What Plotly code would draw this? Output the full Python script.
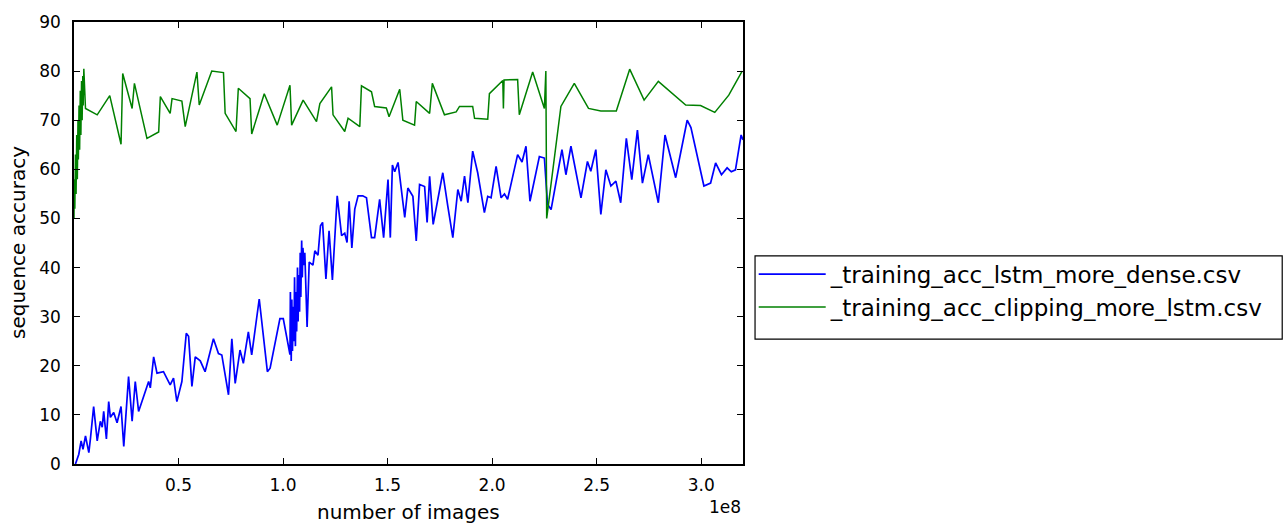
import numpy as np
import plotly.graph_objects as go

SCALE = 1e8  # x values below are in units of 1e8 images

blue_x = [0.007, 0.023, 0.034, 0.043, 0.055, 0.071, 0.079, 0.094, 0.111, 0.126,
          0.135, 0.142, 0.155, 0.166, 0.174, 0.190, 0.206, 0.225, 0.238, 0.261,
          0.278, 0.293, 0.309, 0.341, 0.357, 0.365, 0.381, 0.397, 0.428, 0.460,
          0.476, 0.492, 0.516, 0.537, 0.548, 0.564, 0.580, 0.604, 0.627, 0.667,
          0.691, 0.707, 0.739, 0.755, 0.771, 0.794, 0.810, 0.834, 0.850, 0.886,
          0.925, 0.938, 0.985, 1.001, 1.025, 1.033, 1.035, 1.039, 1.042, 1.045,
          1.049, 1.052, 1.055, 1.059, 1.062, 1.065, 1.069, 1.072, 1.075, 1.079,
          1.082, 1.085, 1.089, 1.092, 1.095, 1.100, 1.104, 1.115, 1.125, 1.143,
          1.152, 1.167, 1.179, 1.189, 1.205, 1.220, 1.236, 1.259, 1.280, 1.295,
          1.306, 1.316, 1.329, 1.343, 1.359, 1.381, 1.399, 1.423, 1.438, 1.462,
          1.481, 1.502, 1.513, 1.523, 1.534, 1.550, 1.582, 1.597, 1.621, 1.637,
          1.653, 1.677, 1.689, 1.701, 1.718, 1.764, 1.788, 1.812, 1.836, 1.852,
          1.868, 1.884, 1.907, 1.931, 1.963, 1.979, 1.995, 2.019, 2.043, 2.059,
          2.074, 2.122, 2.143, 2.162, 2.181, 2.226, 2.250, 2.265, 2.282, 2.334,
          2.353, 2.377, 2.425, 2.456, 2.472, 2.496, 2.520, 2.544, 2.568, 2.592,
          2.615, 2.642, 2.668, 2.695, 2.719, 2.747, 2.795, 2.827, 2.878, 2.933,
          2.951, 3.013, 3.045, 3.069, 3.097, 3.124, 3.144, 3.164, 3.191, 3.200]
blue_y = [0.0, 2.0, 4.7, 3.0, 5.7, 2.3, 5.3, 11.7, 4.7, 8.7,
          7.5, 10.7, 5.1, 12.7, 9.5, 10.5, 8.4, 11.7, 3.6, 17.8,
          8.7, 16.8, 10.7, 14.8, 16.8, 15.5, 21.8, 18.5, 18.8, 16.1,
          17.5, 12.7, 16.8, 26.6, 26.0, 15.8, 21.8, 21.0, 18.8, 25.5,
          22.5, 22.2, 14.1, 25.5, 16.4, 23.2, 20.5, 26.9, 22.2, 33.6,
          18.8, 19.5, 29.6, 29.6, 24.2, 22.3, 35.0, 21.0, 33.5, 23.0,
          32.0, 25.0, 38.0, 24.0, 35.0, 27.0, 40.0, 29.0, 38.5, 31.0,
          43.0, 34.0, 45.5, 38.0, 44.0, 40.5, 43.0, 27.9, 41.1, 40.5,
          43.4, 42.5, 48.5, 49.2, 37.7, 47.5, 37.5, 54.6, 46.5, 47.0,
          45.1, 53.5, 44.0, 51.9, 54.6, 54.6, 54.2, 46.1, 46.1, 53.9,
          46.1, 57.9, 46.1, 60.9, 59.5, 61.4, 50.2, 56.2, 54.5, 45.4,
          56.9, 56.5, 49.2, 58.6, 48.8, 59.3, 52.5, 46.1, 55.9, 53.5,
          58.6, 53.2, 63.7, 59.3, 51.2, 54.5, 54.2, 60.6, 54.2, 55.0,
          53.9, 63.0, 61.5, 64.7, 53.5, 62.6, 62.3, 52.9, 51.8, 64.0,
          58.9, 64.7, 54.2, 61.6, 59.6, 64.0, 50.8, 59.9, 56.6, 57.6,
          53.2, 66.3, 57.9, 68.0, 57.2, 63.0, 53.2, 67.0, 58.3, 70.0,
          68.5, 56.6, 57.2, 61.3, 58.9, 60.3, 59.5, 59.9, 67.0, 66.0]

green_x = [0.000, 0.001, 0.004, 0.007, 0.010, 0.013, 0.016, 0.019, 0.021, 0.024,
           0.027, 0.030, 0.033, 0.036, 0.039, 0.042, 0.044, 0.047, 0.055, 0.111,
           0.171, 0.225, 0.233, 0.278, 0.289, 0.349, 0.405, 0.413, 0.460, 0.469,
           0.516, 0.532, 0.588, 0.599, 0.659, 0.715, 0.723, 0.775, 0.786, 0.842,
           0.850, 0.910, 0.972, 1.033, 1.041, 1.096, 1.160, 1.176, 1.232, 1.239,
           1.295, 1.311, 1.367, 1.375, 1.423, 1.438, 1.494, 1.507, 1.558, 1.573,
           1.629, 1.637, 1.701, 1.714, 1.772, 1.828, 1.844, 1.907, 1.916, 1.979,
           1.987, 2.051, 2.054, 2.057, 2.122, 2.130, 2.194, 2.250, 2.257, 2.261,
           2.329, 2.393, 2.461, 2.520, 2.594, 2.658, 2.727, 2.795, 2.926, 2.997,
           3.065, 3.132, 3.196]
green_y = [50.0, 58.0, 52.0, 63.0, 55.0, 67.0, 58.0, 70.0, 62.0, 73.0,
           64.0, 76.0, 67.0, 78.0, 70.0, 79.0, 73.0, 80.5, 72.4, 71.1,
           75.0, 65.1, 79.5, 72.4, 77.5, 66.3, 67.6, 74.8, 71.4, 74.4,
           73.9, 68.7, 79.8, 73.1, 80.0, 79.7, 71.4, 67.7, 76.5, 74.4,
           67.2, 75.4, 69.0, 77.1, 69.0, 74.1, 69.7, 73.4, 76.8, 71.1,
           67.7, 70.4, 68.7, 77.0, 75.8, 72.8, 72.5, 70.7, 76.3, 70.0,
           69.0, 73.8, 71.4, 77.5, 71.1, 71.7, 72.8, 72.8, 70.4, 70.2,
           75.4, 78.1, 72.4, 78.2, 78.3, 71.1, 79.8, 72.4, 80.0, 50.0,
           72.8, 77.5, 72.4, 71.9, 71.9, 80.4, 74.1, 77.9, 73.1, 73.0,
           71.6, 75.1, 80.0]

series_names = ["_training_acc_lstm_more_dense.csv", "_training_acc_clipping_more_lstm.csv"]
x_tick_vals = [0.5, 1.0, 1.5, 2.0, 2.5, 3.0]
x_tick_text = ["0.5", "1.0", "1.5", "2.0", "2.5", "3.0"]
y_tick_vals = [0, 10, 20, 30, 40, 50, 60, 70, 80, 90]

FONT = "DejaVu Sans"

fig = go.Figure()
fig.add_trace(go.Scatter(x=np.array(blue_x) * SCALE, y=blue_y, mode="lines",
                         line=dict(color="#0000ff", width=1.7), name=series_names[0]))
fig.add_trace(go.Scatter(x=np.array(green_x) * SCALE, y=green_y, mode="lines",
                         line=dict(color="#008000", width=1.5), name=series_names[1]))

axis_common = dict(ticks="inside", ticklen=6, tickcolor="black", tickwidth=1,
                   showline=True, linecolor="black", linewidth=1.5, mirror="ticks",
                   showgrid=False, zeroline=False,
                   tickfont=dict(family=FONT, size=17, color="black"))

fig.update_layout(
    width=1285, height=523,
    margin=dict(l=74, r=542, t=18, b=59),
    paper_bgcolor="white", plot_bgcolor="white",
    font=dict(family=FONT, color="black"),
    showlegend=True,
    legend=dict(x=1.016, y=0.392, xanchor="left", yanchor="middle",
                borderwidth=0, bgcolor="rgba(0,0,0,0)",
                itemwidth=67, tracegroupgap=0,
                font=dict(family=FONT, size=23, color="black")),
    shapes=[
        # legend frame (matplotlib-style box, larger than plotly's default padding)
        dict(type="rect", xref="paper", yref="paper", x0=1.018, x1=1.806,
             y0=0.2825, y1=0.4709, line=dict(color="black", width=1.2),
             fillcolor="rgba(0,0,0,0)", layer="above"),
    ],
    xaxis=dict(range=[0, 3.2 * SCALE], tickvals=[v * SCALE for v in x_tick_vals],
               ticktext=x_tick_text, ticklabelstandoff=5, **axis_common),
    yaxis=dict(range=[0, 90], tickvals=y_tick_vals, ticklabelstandoff=8, **axis_common),
    annotations=[
        dict(text="number of images", xref="paper", yref="paper", x=0.5, y=-0.1076,
             xanchor="center", yanchor="middle", showarrow=False,
             font=dict(family=FONT, size=20, color="black")),
        dict(text="sequence accuracy", xref="paper", yref="paper", x=-0.0837, y=0.5,
             xanchor="center", yanchor="middle", textangle=-90, showarrow=False,
             font=dict(family=FONT, size=20, color="black")),
        dict(text="1e8", xref="paper", yref="paper", x=1.0, y=-0.0964,
             xanchor="right", yanchor="middle", showarrow=False,
             font=dict(family=FONT, size=17, color="black")),
    ],
)

fig.write_html("out.html")
